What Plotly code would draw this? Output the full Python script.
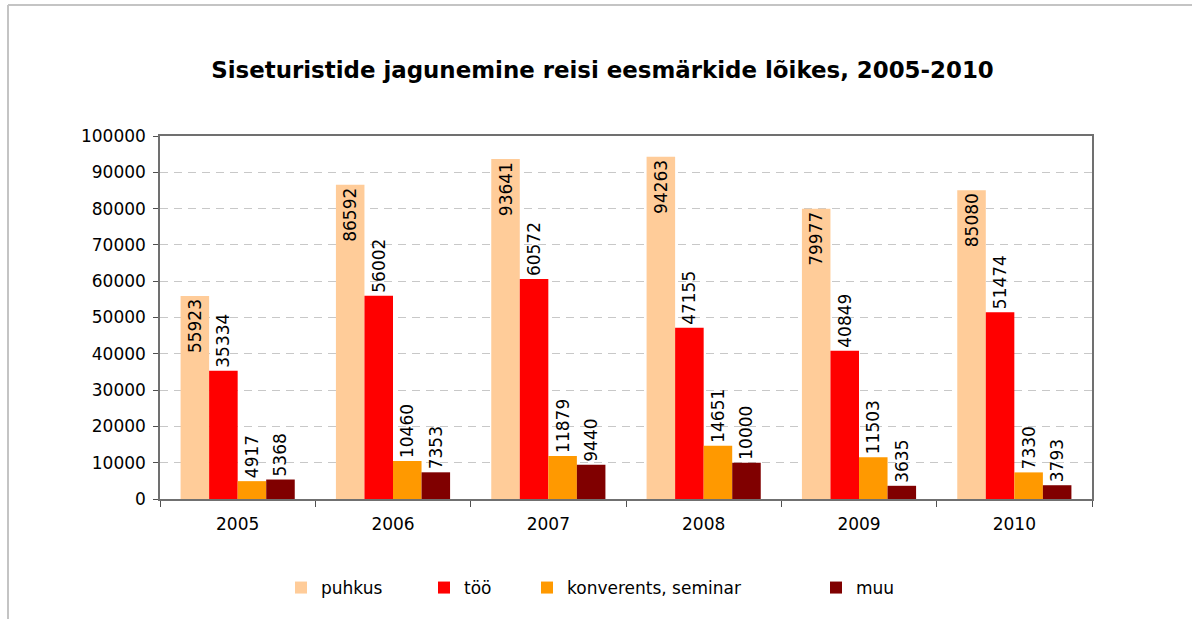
import plotly.graph_objects as go

years = ["2005", "2006", "2007", "2008", "2009", "2010"]
series_names = ["puhkus", "töö", "konverents, seminar", "muu"]
puhkus = [55923, 86592, 93641, 94263, 79977, 85080]
too = [35334, 56002, 60572, 47155, 40849, 51474]
konverents = [4917, 10460, 11879, 14651, 11503, 7330]
muu = [5368, 7353, 9440, 10000, 3635, 3793]
colors = ["#FFCC99", "#FF0000", "#FF9900", "#800000"]
y_ticks = list(range(0, 100001, 10000))

W, H = 1192, 619
L, R, T, B = 160, 100, 136, 120
FONT = "DejaVu Sans"
FS = 17

pw = W - L - R
ph = H - T - B
def px(x):
    return (x - L) / pw
def py(y):
    return (H - B - y) / ph

legend_names = ["legend", "legend2", "legend3", "legend4"]
legend_x = [300, 443, 546, 835]

fig = go.Figure()
for i, (name, vals, col) in enumerate(zip(series_names, [puhkus, too, konverents, muu], colors)):
    inside = name == "puhkus"
    fig.add_trace(go.Bar(
        x=years, y=vals, name=name, marker=dict(color=col, line=dict(width=0)),
        text=[str(v) for v in vals], textangle=-90,
        textposition="inside" if inside else "outside",
        insidetextanchor="end", constraintext="none",
        textfont=dict(family=FONT, size=FS, color="black"),
        cliponaxis=False, legend=legend_names[i],
    ))

layout_legends = {}
for ln, lx in zip(legend_names, legend_x):
    layout_legends[ln] = dict(orientation="h", x=px(lx - 19), xanchor="left",
                              y=py(588), yanchor="middle", bgcolor="rgba(0,0,0,0)",
                              font=dict(family=FONT, size=FS, color="black"),
                              itemwidth=30)

fig.update_layout(
    width=W, height=H,
    margin=dict(l=L, r=R, t=T, b=B),
    paper_bgcolor="white", plot_bgcolor="white",
    barmode="group", bargap=0.265, bargroupgap=0,
    font=dict(family=FONT, size=FS, color="black"),
    title=dict(text="<b>Siseturistide jagunemine reisi eesmärkide lõikes, 2005-2010</b>",
               font=dict(family=FONT, size=22.9, color="black"),
               xref="container", x=602.5 / W, xanchor="center",
               yref="container", y=1 - 70 / H, yanchor="middle"),
    showlegend=True,
    xaxis=dict(showline=True, linecolor="#707070", linewidth=1.5, mirror=True,
               ticks="outside", tickson="boundaries", ticklen=6, tickcolor="#505050",
               ticklabelstandoff=9,
               tickfont=dict(family=FONT, size=FS), showgrid=False),
    yaxis=dict(range=[0, 100000], tickvals=y_ticks, tickformat="d",
               showline=True, linecolor="#707070", linewidth=1.5, mirror=True,
               ticks="outside", ticklen=5, tickcolor="#505050",
               ticklabelstandoff=4,
               tickfont=dict(family=FONT, size=FS),
               showgrid=True, gridcolor="#C8C8C8", griddash="8px,6px", gridwidth=1,
               zeroline=False),
    shapes=[
        dict(type="line", xref="paper", yref="paper", x0=px(8), x1=px(8), y0=py(5), y1=py(640),
             line=dict(color="#C4C4C4", width=2)),
        dict(type="line", xref="paper", yref="paper", x0=px(8), x1=px(1220), y0=py(5), y1=py(5),
             line=dict(color="#C4C4C4", width=2)),
    ],
    **layout_legends,
)

fig.write_html("out.html", config={"displayModeBar": False},
               post_script="document.body.style.margin='0';document.body.style.overflow='hidden';")
